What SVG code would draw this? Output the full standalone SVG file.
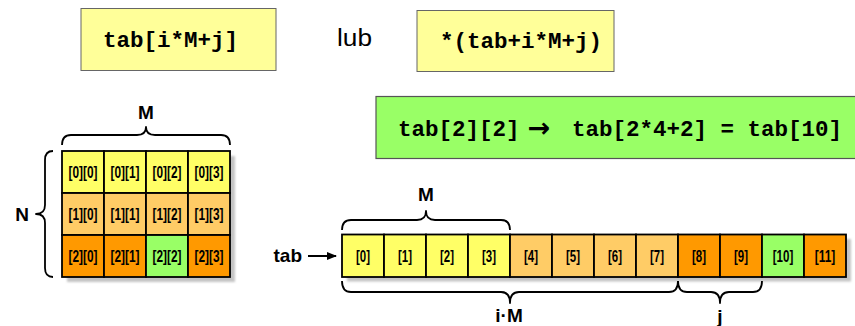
<svg xmlns="http://www.w3.org/2000/svg" width="855" height="326" viewBox="0 0 855 326">
  <defs>
    <style>
      .code { font-family: "Liberation Mono", "Courier New", monospace; font-weight: bold; font-size: 22.5px; fill: #000; }
      .sans { font-family: "Liberation Sans", Arial, sans-serif; fill: #000; }
      .lbl { font-family: "Liberation Sans", Arial, sans-serif; font-weight: bold; font-size: 19px; fill: #000; text-anchor: middle; }
      .cellt { font-family: "Liberation Sans", Arial, sans-serif; font-weight: bold; font-size: 16px; fill: #000; text-anchor: middle; }
      .codebox { fill: #FFFF99; stroke: #666; stroke-width: 1; }
      .cell { stroke: #000; stroke-width: 1.8; }
      .y { fill: #FFFF66; }
      .lo { fill: #FFCC66; }
      .o { fill: #FF9900; }
      .g { fill: #99FF66; }
      .shadow { fill: #c4c4c4; filter: url(#soft); }
      .brace { fill: none; stroke: #000; stroke-width: 1.8; stroke-linejoin: round; }
    </style>
    <filter id="soft" x="-10%" y="-10%" width="120%" height="120%">
      <feGaussianBlur stdDeviation="1"/>
    </filter>
    <marker id="head" markerWidth="10" markerHeight="8" refX="9" refY="4" orient="auto" markerUnits="userSpaceOnUse">
      <path d="M0,0 L10,4 L0,8 Z" fill="#000"/>
    </marker>
  </defs>

  <!-- index formulas -->
  <g id="formula-index">
    <rect class="codebox" x="81" y="8.5" width="195" height="62"/>
    <text class="code" x="103" y="47">tab[i*M+j]</text>
  </g>
  <g id="word-lub">
    <text class="sans" x="337" y="46" font-size="23" textLength="35" lengthAdjust="spacingAndGlyphs">lub</text>
  </g>
  <g id="formula-pointer">
    <rect class="codebox" x="417" y="10.5" width="197" height="61"/>
    <text class="code" x="440" y="48">*(tab+i*M+j)</text>
  </g>

  <!-- worked example -->
  <g id="example">
    <rect x="376" y="96.5" width="490" height="62" fill="#99FF66" stroke="#555" stroke-width="1.2"/>
    <text class="code" x="398" y="136">tab[2][2]</text>
    <text x="539" y="137" font-family="DejaVu Sans, sans-serif" font-weight="bold" font-size="27" text-anchor="middle">→</text>
    <text class="code" x="572" y="136">tab[2*4+2] = tab[10]</text>
  </g>

  <!-- 2D array N x M -->
  <g id="matrix">
    <rect class="shadow" x="67" y="156" width="168" height="126"/>
    <rect class="cell y" x="62" y="151" width="42" height="42"/>
    <rect class="cell y" x="104" y="151" width="42" height="42"/>
    <rect class="cell y" x="146" y="151" width="42" height="42"/>
    <rect class="cell y" x="188" y="151" width="42" height="42"/>
    <rect class="cell lo" x="62" y="193" width="42" height="42"/>
    <rect class="cell lo" x="104" y="193" width="42" height="42"/>
    <rect class="cell lo" x="146" y="193" width="42" height="42"/>
    <rect class="cell lo" x="188" y="193" width="42" height="42"/>
    <rect class="cell o" x="62" y="235" width="42" height="42"/>
    <rect class="cell o" x="104" y="235" width="42" height="42"/>
    <rect class="cell g" x="146" y="235" width="42" height="42"/>
    <rect class="cell o" x="188" y="235" width="42" height="42"/>
    <text class="cellt" x="83" y="177.5" textLength="29" lengthAdjust="spacingAndGlyphs">[0][0]</text>
    <text class="cellt" x="125" y="177.5" textLength="29" lengthAdjust="spacingAndGlyphs">[0][1]</text>
    <text class="cellt" x="167" y="177.5" textLength="29" lengthAdjust="spacingAndGlyphs">[0][2]</text>
    <text class="cellt" x="209" y="177.5" textLength="29" lengthAdjust="spacingAndGlyphs">[0][3]</text>
    <text class="cellt" x="83" y="219.5" textLength="29" lengthAdjust="spacingAndGlyphs">[1][0]</text>
    <text class="cellt" x="125" y="219.5" textLength="29" lengthAdjust="spacingAndGlyphs">[1][1]</text>
    <text class="cellt" x="167" y="219.5" textLength="29" lengthAdjust="spacingAndGlyphs">[1][2]</text>
    <text class="cellt" x="209" y="219.5" textLength="29" lengthAdjust="spacingAndGlyphs">[1][3]</text>
    <text class="cellt" x="83" y="261.5" textLength="29" lengthAdjust="spacingAndGlyphs">[2][0]</text>
    <text class="cellt" x="125" y="261.5" textLength="29" lengthAdjust="spacingAndGlyphs">[2][1]</text>
    <text class="cellt" x="167" y="261.5" textLength="29" lengthAdjust="spacingAndGlyphs">[2][2]</text>
    <text class="cellt" x="209" y="261.5" textLength="29" lengthAdjust="spacingAndGlyphs">[2][3]</text>
    <text class="lbl" x="146" y="119">M</text>
    <text class="lbl" x="22" y="221" font-size="20">N</text>
  </g>

  <!-- flat memory layout -->
  <g id="strip">
    <rect class="shadow" x="347" y="239" width="504" height="42.5"/>
    <rect class="cell y" x="342" y="234.5" width="42" height="42.5"/>
    <rect class="cell y" x="384" y="234.5" width="42" height="42.5"/>
    <rect class="cell y" x="426" y="234.5" width="42" height="42.5"/>
    <rect class="cell y" x="468" y="234.5" width="42" height="42.5"/>
    <rect class="cell lo" x="510" y="234.5" width="42" height="42.5"/>
    <rect class="cell lo" x="552" y="234.5" width="42" height="42.5"/>
    <rect class="cell lo" x="594" y="234.5" width="42" height="42.5"/>
    <rect class="cell lo" x="636" y="234.5" width="42" height="42.5"/>
    <rect class="cell o" x="678" y="234.5" width="42" height="42.5"/>
    <rect class="cell o" x="720" y="234.5" width="42" height="42.5"/>
    <rect class="cell g" x="762" y="234.5" width="42" height="42.5"/>
    <rect class="cell o" x="804" y="234.5" width="42" height="42.5"/>
    <text class="cellt" x="363" y="261.5" textLength="14" lengthAdjust="spacingAndGlyphs">[0]</text>
    <text class="cellt" x="405" y="261.5" textLength="14" lengthAdjust="spacingAndGlyphs">[1]</text>
    <text class="cellt" x="447" y="261.5" textLength="14" lengthAdjust="spacingAndGlyphs">[2]</text>
    <text class="cellt" x="489" y="261.5" textLength="14" lengthAdjust="spacingAndGlyphs">[3]</text>
    <text class="cellt" x="531" y="261.5" textLength="14" lengthAdjust="spacingAndGlyphs">[4]</text>
    <text class="cellt" x="573" y="261.5" textLength="14" lengthAdjust="spacingAndGlyphs">[5]</text>
    <text class="cellt" x="615" y="261.5" textLength="14" lengthAdjust="spacingAndGlyphs">[6]</text>
    <text class="cellt" x="657" y="261.5" textLength="14" lengthAdjust="spacingAndGlyphs">[7]</text>
    <text class="cellt" x="699" y="261.5" textLength="14" lengthAdjust="spacingAndGlyphs">[8]</text>
    <text class="cellt" x="741" y="261.5" textLength="14" lengthAdjust="spacingAndGlyphs">[9]</text>
    <text class="cellt" x="783" y="261.5" textLength="20.5" lengthAdjust="spacingAndGlyphs">[10]</text>
    <text class="cellt" x="825" y="261.5" textLength="20.5" lengthAdjust="spacingAndGlyphs">[11]</text>
    <text class="lbl" x="426" y="201">M</text>
    <text class="lbl" x="302" y="262" font-size="20" style="text-anchor:end">tab</text>
    <text class="lbl" x="509" y="322">i·M</text>
    <text class="lbl" x="720" y="323">j</text>
  </g>

  <!-- braces and pointer arrow -->
  <g id="connectors">
    <path class="brace" d="M62,145 Q62,135 71,135 L137,135 Q146,135 146,127 Q146,135 155,135 L221,135 Q230,135 230,145"/>
    <path class="brace" d="M53,151 Q45,151 45,160 L45,205 Q45,214 36,214 Q45,214 45,223 L45,268 Q45,277 53,277"/>
    <path class="brace" d="M342,230 Q342,220 351,220 L417,220 Q426,220 426,211 Q426,220 435,220 L501,220 Q510,220 510,230"/>
    <path class="brace" d="M342,281 Q342,292 351,292 L501,292 Q510,292 510,303 Q510,292 519,292 L669,292 Q678,292 678,281"/>
    <path class="brace" d="M678,281 Q678,292 687,292 L711,292 Q720,292 720,303 Q720,292 729,292 L753,292 Q762,292 762,281"/>
    <line x1="308" y1="256" x2="336" y2="256" stroke="#000" stroke-width="2" marker-end="url(#head)"/>
  </g>
</svg>
